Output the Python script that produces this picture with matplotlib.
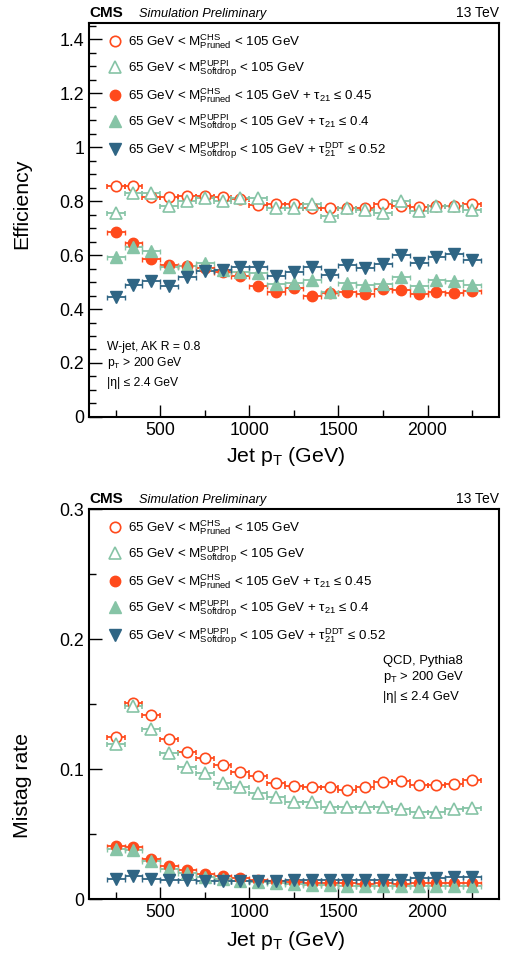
import matplotlib
matplotlib.use("Agg")
import matplotlib.pyplot as plt
from matplotlib.ticker import MultipleLocator, FormatStrFormatter
import numpy as np

plt.rcParams['font.family'] = ['Liberation Sans', 'DejaVu Sans']
plt.rcParams['mathtext.fontset'] = 'custom'
plt.rcParams['mathtext.rm'] = 'Liberation Sans'
plt.rcParams['mathtext.it'] = 'Liberation Sans:italic'
plt.rcParams['mathtext.bf'] = 'Liberation Sans:bold'

# jet pT bin centres and half width (GeV)
pt = [250, 350, 450, 550, 650, 750, 850, 950, 1050, 1150, 1250,
      1350, 1450, 1550, 1650, 1750, 1850, 1950, 2050, 2150, 2250]
pt_half = 50

# W-jet efficiency
eff_pruned = [0.857, 0.857, 0.814, 0.816, 0.82, 0.82, 0.816, 0.807, 0.785, 0.788, 0.791,
              0.773, 0.773, 0.776, 0.776, 0.79, 0.781, 0.778, 0.781, 0.781, 0.79]
eff_softdrop = [0.754, 0.831, 0.831, 0.781, 0.8, 0.812, 0.8, 0.812, 0.81, 0.773, 0.775,
                0.791, 0.744, 0.776, 0.767, 0.757, 0.801, 0.763, 0.781, 0.781, 0.768]
eff_pruned_tau = [0.686, 0.643, 0.585, 0.563, 0.56, 0.553, 0.538, 0.523, 0.485, 0.464, 0.479,
                  0.449, 0.458, 0.462, 0.456, 0.474, 0.47, 0.456, 0.464, 0.458, 0.467]
eff_softdrop_tau = [0.594, 0.631, 0.615, 0.557, 0.56, 0.569, 0.544, 0.538, 0.534, 0.493, 0.498,
                    0.507, 0.464, 0.498, 0.489, 0.494, 0.52, 0.486, 0.507, 0.504, 0.489]
eff_softdrop_ddt = [0.443, 0.489, 0.504, 0.487, 0.517, 0.542, 0.544, 0.557, 0.554, 0.522, 0.538,
                    0.557, 0.526, 0.563, 0.553, 0.565, 0.6, 0.569, 0.594, 0.603, 0.583]

# QCD mistag rate
mis_pruned = [0.1249, 0.151, 0.1413, 0.1228, 0.1128, 0.1082, 0.1028, 0.0977, 0.0944, 0.0895, 0.087,
              0.0859, 0.0859, 0.0838, 0.0859, 0.0903, 0.091, 0.0875, 0.0875, 0.0882, 0.0915]
mis_softdrop = [0.1192, 0.1485, 0.1308, 0.1126, 0.1013, 0.0967, 0.089, 0.0864, 0.0813, 0.0787, 0.0747,
                0.0744, 0.071, 0.0705, 0.0705, 0.071, 0.069, 0.0672, 0.0672, 0.069, 0.0703]
mis_pruned_tau = [0.041, 0.0397, 0.031, 0.0255, 0.022, 0.0195, 0.0178, 0.016, 0.0146, 0.0139, 0.0133,
                  0.0125, 0.012, 0.012, 0.0118, 0.012, 0.0118, 0.0122, 0.0122, 0.0122, 0.012]
mis_softdrop_tau = [0.0385, 0.038, 0.0293, 0.0227, 0.0198, 0.0173, 0.0157, 0.0141, 0.0128, 0.0122, 0.0113,
                    0.0105, 0.0105, 0.0102, 0.0103, 0.0102, 0.0098, 0.0098, 0.0098, 0.0098, 0.0097]
mis_softdrop_ddt = [0.0152, 0.018, 0.0152, 0.0147, 0.0147, 0.0142, 0.0142, 0.0142, 0.0142, 0.0142, 0.0143,
                    0.0145, 0.0145, 0.0146, 0.0146, 0.0146, 0.0146, 0.0165, 0.0165, 0.0168, 0.0168]

labels = [
    r"65 GeV < $\mathregular{M^{CHS}_{Pruned}}$ < 105 GeV",
    r"65 GeV < $\mathregular{M^{PUPPI}_{Softdrop}}$ < 105 GeV",
    r"65 GeV < $\mathregular{M^{CHS}_{Pruned}}$ < 105 GeV + $\mathregular{τ_{21}}$ ≤ 0.45",
    r"65 GeV < $\mathregular{M^{PUPPI}_{Softdrop}}$ < 105 GeV + $\mathregular{τ_{21}}$ ≤ 0.4",
    r"65 GeV < $\mathregular{M^{PUPPI}_{Softdrop}}$ < 105 GeV + $\mathregular{τ^{DDT}_{21}}$ ≤ 0.52",
]

red = '#ff4a1c'
green = '#86c4a6'
blue = '#2f6584'
styles = [
    dict(color=red, marker='o', mfc='white', ms=7.5, mew=1.2),
    dict(color=green, marker='^', mfc='white', ms=8, mew=1.2),
    dict(color=red, marker='o', mfc=red, ms=7.5, mew=1.0),
    dict(color=green, marker='^', mfc=green, ms=8, mew=1.0),
    dict(color=blue, marker='v', mfc=blue, ms=8, mew=1.0),
]

fig = plt.figure(figsize=(5.08, 9.57), dpi=100)
ax1 = fig.add_axes([0.175, 0.5643, 0.807, 0.4117])
ax2 = fig.add_axes([0.175, 0.0606, 0.807, 0.4075])


def draw(ax, series):
    handles = []
    for ys, st in zip(series, styles):
        c = ax.errorbar(pt, ys, xerr=pt_half, ls='none', elinewidth=1.3,
                        capsize=1.8, capthick=1.0, ecolor=st['color'],
                        marker=st['marker'], ms=st['ms'], mfc=st['mfc'],
                        mec=st['color'], mew=st['mew'])
        handles.append(c[0])
    return handles


h1 = draw(ax1, [eff_pruned, eff_softdrop, eff_pruned_tau, eff_softdrop_tau, eff_softdrop_ddt])
h2 = draw(ax2, [mis_pruned, mis_softdrop, mis_pruned_tau, mis_softdrop_tau, mis_softdrop_ddt])

for ax in (ax1, ax2):
    ax.set_xlim(100, 2400)
    ax.xaxis.set_major_locator(MultipleLocator(500))
    ax.xaxis.set_minor_locator(MultipleLocator(250))
    ax.tick_params(which='both', direction='in', top=False, right=False, labelsize=12.8, width=1.0)
    ax.tick_params(which='major', length=9)
    ax.tick_params(which='minor', length=5)
    ax.yaxis.set_major_formatter(FormatStrFormatter('%g'))
    for s in ax.spines.values():
        s.set_linewidth(1.5)
    ax.set_xlabel(r"Jet $\mathregular{p_{T}}$ (GeV)", fontsize=15.3)

ax1.xaxis.set_label_coords(0.48, -0.072)
ax2.xaxis.set_label_coords(0.48, -0.076)

ax1.set_ylim(0, 1.46)
ax1.yaxis.set_major_locator(MultipleLocator(0.2))
ax1.yaxis.set_minor_locator(MultipleLocator(0.05))
ax1.set_ylabel("Efficiency", fontsize=15.3)
ax1.yaxis.set_label_coords(-0.14, 0.54)

ax2.set_ylim(0, 0.3)
ax2.yaxis.set_major_locator(MultipleLocator(0.1))
ax2.yaxis.set_minor_locator(MultipleLocator(0.05))
ax2.set_ylabel("Mistag rate", fontsize=15.3)
ax2.yaxis.set_label_coords(-0.14, 0.29)

for ax, h in ((ax1, h1), (ax2, h2)):
    ax.legend(h, labels, loc='upper left', bbox_to_anchor=(0.025, 1.0), frameon=False,
              fontsize=9.6, handlelength=1.0, handletextpad=0.5, labelspacing=0.55,
              borderaxespad=0.3)
    ax.text(0.0, 1.008, "CMS", transform=ax.transAxes, fontsize=11, fontweight='bold',
            va='bottom', ha='left')
    ax.text(0.122, 1.008, "Simulation Preliminary", transform=ax.transAxes, fontsize=9.2,
            style='italic', va='bottom', ha='left')
    ax.text(1.0, 1.008, "13 TeV", transform=ax.transAxes, fontsize=10, va='bottom', ha='right')

ax1.text(0.044, 0.178, "W-jet, AK R = 0.8", transform=ax1.transAxes, fontsize=8.7, va='center')
ax1.text(0.044, 0.137, r"$\mathregular{p_{T}}$ > 200 GeV", transform=ax1.transAxes, fontsize=8.7, va='center')
ax1.text(0.044, 0.086, "|η| ≤ 2.4 GeV", transform=ax1.transAxes, fontsize=8.7, va='center')

ax2.text(0.717, 0.61, "QCD, Pythia8", transform=ax2.transAxes, fontsize=9.4, va='center')
ax2.text(0.717, 0.569, r"$\mathregular{p_{T}}$ > 200 GeV", transform=ax2.transAxes, fontsize=9.4, va='center')
ax2.text(0.717, 0.518, "|η| ≤ 2.4 GeV", transform=ax2.transAxes, fontsize=9.4, va='center')

fig.savefig("out.png", dpi=100)
